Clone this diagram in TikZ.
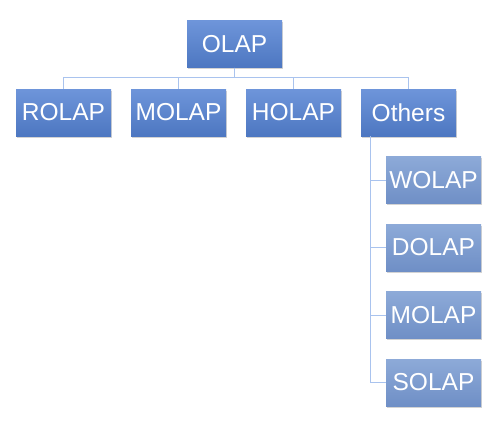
\documentclass[tikz,border=0pt]{standalone}
\usepackage{fontspec}
\setmainfont{Liberation Sans}
\usetikzlibrary{shadows}
\definecolor{boxtop}{HTML}{6E95DA}
\definecolor{boxbot}{HTML}{4D77C1}
\definecolor{subtop}{HTML}{8DAAD8}
\definecolor{subbot}{HTML}{6F8FC6}
\definecolor{linkcol}{HTML}{A9C3EE}
\tikzset{
olapbox/.style={
	  rectangle, top color=boxtop, bottom color=boxbot, draw=none,
	    text=white, font=\fontsize{24.5}{26}\selectfont,
    minimum width=95pt, minimum height=47pt, inner sep=0pt,
    drop shadow={shadow xshift=1pt, shadow yshift=-1.5pt, opacity=0.35}},
subbox/.style={
	  olapbox, top color=subtop, bottom color=subbot},
link/.style={draw=linkcol, line width=0.8pt}
}

\begin{document}
\begin{tikzpicture}[x=1pt, y=-1pt]
	\useasboundingbox (0,0) rectangle (497,420);
	\node[olapbox] (olap) at (234.5,44) {OLAP};
	\node[olapbox] (rolap) at (63.5,112.5) {ROLAP};
	\node[olapbox] (molap) at (178.5,112.5) {MOLAP};
	\node[olapbox] (holap) at (293.5,112.5) {HOLAP};
	\node[olapbox] (others) at (408.5,112.5) {Others};
	\node[subbox] (wolap) at (433.5,180) {WOLAP};
	\node[subbox] (dolap) at (433.5,247.5) {DOLAP};
	\node[subbox] (molap2) at (433.5,315) {MOLAP};
	\node[subbox] (solap) at (433.5,382.5) {SOLAP};
	% level 1
	\foreach \child in {rolap, molap, holap, others}
		\draw[link] (olap.south) -- ++(0,10) -| (\child.north);
	% level 2
	\foreach \child in {wolap, dolap, molap2, solap}
		\draw[link] ([xshift=10pt]others.south west) |- (\child.west);
\end{tikzpicture}
\end{document}
